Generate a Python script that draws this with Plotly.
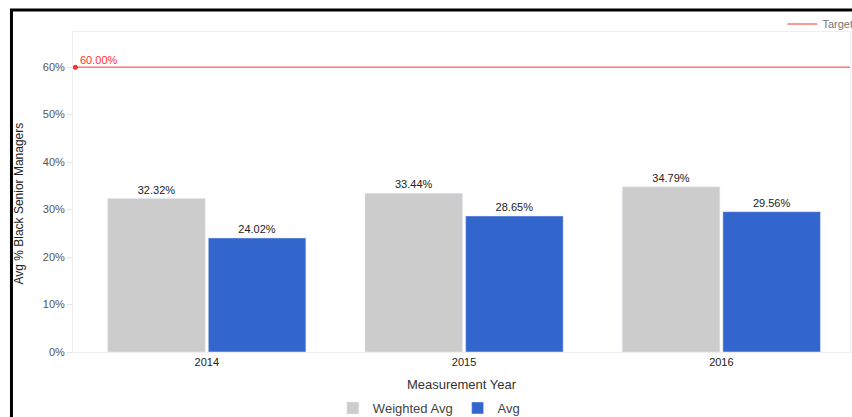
import plotly.graph_objects as go

years = ["2014", "2015", "2016"]
weighted_avg = [0.3232, 0.3344, 0.3479]
avg = [0.2402, 0.2865, 0.2956]
target = 0.60

GRAY = "#cccccc"
BLUE = "#3366cc"
RED = "#ff3030"
FONT = "Liberation Sans"

fig = go.Figure()

fig.add_trace(go.Bar(
    name="Weighted Avg", x=years, y=weighted_avg, marker_color=GRAY,
    text=[f"{v:.2%}" for v in weighted_avg], textposition="outside",
    textfont=dict(size=11, color="#222222", family=FONT), cliponaxis=False,
    legend="legend",
))
fig.add_trace(go.Bar(
    name="Avg", x=years, y=avg, marker_color=BLUE,
    text=[f"{v:.2%}" for v in avg], textposition="outside",
    textfont=dict(size=11, color="#222222", family=FONT), cliponaxis=False,
    legend="legend",
))

# Target line spans the full plot width on an overlaid numeric axis
fig.add_trace(go.Scatter(
    name="Target", x=[0.003, 1.0], y=[target, target], xaxis="x2",
    mode="lines", line=dict(color=RED, width=1),
    legend="legend2", cliponaxis=False, hoverinfo="skip",
))
# Dot marking the start of the target line
fig.add_trace(go.Scatter(
    x=[0.003], y=[target], xaxis="x2", mode="markers",
    marker=dict(size=5, color=RED), showlegend=False,
    cliponaxis=False, hoverinfo="skip",
))
fig.add_annotation(
    x=0.006, y=target, xref="x2", yref="y", text=f"{target:.2%}",
    showarrow=False, xanchor="left", yanchor="bottom", yshift=-1,
    font=dict(size=11, color=RED, family=FONT),
)

fig.update_layout(
    width=852, height=417,
    margin=dict(l=73, r=2, t=32, b=65, autoexpand=False),
    paper_bgcolor="white", plot_bgcolor="white",
    barmode="group", bargap=0.218, bargroupgap=0.03,
    font=dict(family=FONT, size=11, color="#333333"),
    xaxis=dict(
        type="category", range=[-0.52, 2.5],
        showline=True, linecolor="#eeeeee", linewidth=1, mirror=True,
        showgrid=False, ticks="", tickfont=dict(size=11, color="#222222"),
        title=dict(text="Measurement Year", font=dict(size=13, color="#333333"), standoff=12),
    ),
    xaxis2=dict(overlaying="x", range=[0, 1], visible=False),
    yaxis=dict(
        range=[0, 0.674], tickvals=[0, 0.1, 0.2, 0.3, 0.4, 0.5, 0.6],
        tickformat=".0%", showgrid=False, zeroline=False,
        showline=True, linecolor="#eeeeee", linewidth=1, mirror=True,
        ticks="outside", ticklen=5, tickcolor="#e6e6e6",
        tickfont=dict(size=11, color="#555555"),
    ),
    legend=dict(
        orientation="h", x=0.458, xanchor="center", y=-0.175, yanchor="middle",
        font=dict(size=13, color="#444444"), itemwidth=30,
        traceorder="normal", bgcolor="rgba(0,0,0,0)",
    ),
    legend2=dict(
        orientation="h", x=0.913, xanchor="left", y=1.025, yanchor="middle",
        font=dict(size=11, color="#777777"), bgcolor="rgba(0,0,0,0)",
    ),
    showlegend=True,
)

# Y axis title
fig.add_annotation(
    text="Avg % Black Senior Managers", xref="paper", yref="paper",
    x=-0.069, y=0.465, xanchor="center", yanchor="middle",
    textangle=-90, showarrow=False,
    font=dict(family=FONT, size=12, color="#222222"),
)

# Black frame around the chart
fig.add_shape(
    type="rect", xref="paper", yref="paper",
    x0=-0.0792, x1=1.2, y0=-0.5, y1=1.0685,
    line=dict(color="black", width=3), layer="above",
)

fig.write_html("out.html")
